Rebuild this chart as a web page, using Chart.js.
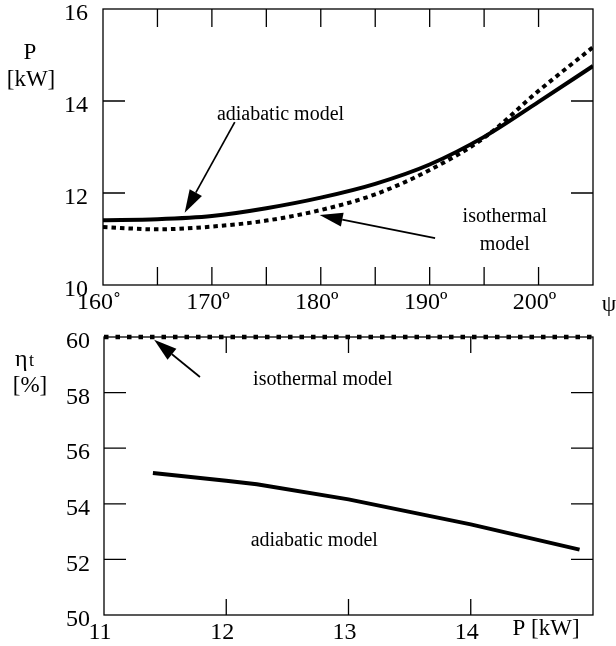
<!DOCTYPE html>
<html>
<head>
<meta charset="utf-8">
<script src="https://cdn.jsdelivr.net/npm/chart.js@4.4.1/dist/chart.umd.min.js"></script>
<style>
    body { margin: 0; background: #fff; }
    #wrap { position: relative; width: 616px; height: 646px; }
    canvas { position: absolute; left: 0; }
    #topChart { top: 0; }
    #bottomChart { top: 322px; }
</style>
</head>
<body>
<div id="wrap">
    <canvas id="topChart" width="616" height="322"></canvas>
    <canvas id="bottomChart" width="616" height="324"></canvas>
</div>
<script>
const FONT = "'Liberation Serif', 'Times New Roman', serif";

// top panel: power vs. angle psi
const psiDeg = [160, 165, 170, 175, 180, 185, 190, 195, 200, 205];
const powerAdiabatic = [11.41, 11.43, 11.50, 11.67, 11.90, 12.20, 12.62, 13.22, 13.98, 14.76];
const powerIsothermal = [11.26, 11.21, 11.27, 11.40, 11.63, 11.97, 12.50, 13.20, 14.22, 15.17];
const psiLabels = [160, 170, 180, 190, 200];
const powerTicks = [10, 12, 14, 16];

// bottom panel: efficiency vs. power
const powerKw = [11.4, 12.0, 12.25, 13.0, 13.5, 14.0, 14.89];
const etaAdiabatic = [55.11, 54.83, 54.70, 54.16, 53.71, 53.26, 52.35];
const powerIsoKw = [11, 15];
const etaIsothermal = [60, 60];
const powerLabels = [11, 12, 13, 14];
const etaTicks = [50, 52, 54, 56, 58, 60];

function toPoints(xs, ys) {
    return xs.map((x, i) => ({ x: x, y: ys[i] }));
}

function drawArrow(ctx, x1, y1, x2, y2, headLen, headW) {
    const ang = Math.atan2(y2 - y1, x2 - x1);
    const bx = x2 - headLen * Math.cos(ang);
    const by = y2 - headLen * Math.sin(ang);
    ctx.beginPath();
    ctx.moveTo(x1, y1);
    ctx.lineTo(bx, by);
    ctx.lineWidth = 1.7;
    ctx.stroke();
    ctx.beginPath();
    ctx.moveTo(x2, y2);
    ctx.lineTo(bx + headW * Math.sin(ang), by - headW * Math.cos(ang));
    ctx.lineTo(bx - headW * Math.sin(ang), by + headW * Math.cos(ang));
    ctx.closePath();
    ctx.fill();
}

// box, inward tick marks, notes and arrows
function framePlugin(cfg) {
    return {
        id: 'frame',
        afterDraw(chart) {
            const ctx = chart.ctx;
            const a = chart.chartArea;
            const xs = chart.scales.x, ys = chart.scales.y;
            ctx.save();
            ctx.strokeStyle = '#000';
            ctx.fillStyle = '#000';
            ctx.lineWidth = 1.3;
            ctx.strokeRect(a.left, a.top, a.right - a.left, a.bottom - a.top);
            ctx.beginPath();
            cfg.xMarks.forEach(v => {
                const px = xs.getPixelForValue(v);
                ctx.moveTo(px, a.bottom); ctx.lineTo(px, a.bottom - cfg.xLen);
                ctx.moveTo(px, a.top); ctx.lineTo(px, a.top + cfg.xLen);
            });
            cfg.yMarks.forEach(v => {
                const py = ys.getPixelForValue(v);
                ctx.moveTo(a.left, py); ctx.lineTo(a.left + cfg.yLen, py);
                ctx.moveTo(a.right, py); ctx.lineTo(a.right - cfg.yLen, py);
            });
            ctx.stroke();

            ctx.font = '20px ' + FONT;
            ctx.textAlign = 'center';
            ctx.textBaseline = 'middle';
            cfg.notes.forEach(n => {
                ctx.fillText(n.text, xs.getPixelForValue(n.x), ys.getPixelForValue(n.y) + 2);
            });
            cfg.arrows.forEach(ar => {
                drawArrow(ctx,
                    xs.getPixelForValue(ar.from[0]), ys.getPixelForValue(ar.from[1]),
                    xs.getPixelForValue(ar.to[0]), ys.getPixelForValue(ar.to[1]),
                    23, 7);
            });

            ctx.font = '23px ' + FONT;
            cfg.titles.forEach(t => ctx.fillText(t.text, t.px, t.py));
            if (cfg.extra) cfg.extra(ctx);
            ctx.restore();
        }
    };
}

function baseOptions(left, bottomH, padTop) {
    return {
        responsive: false,
        animation: false,
        layout: { padding: { top: padTop, right: 23, left: 0, bottom: 0 } },
        plugins: { legend: { display: false }, tooltip: { enabled: false } },
        elements: { point: { radius: 0 } },
        scales: {
            x: {
                type: 'linear',
                grid: { display: false, drawTicks: false, tickLength: 0 },
                border: { display: false },
                afterFit(s) { s.height = bottomH; s.paddingLeft = 0; s.paddingRight = 0; }
            },
            y: {
                type: 'linear',
                grid: { display: false, drawTicks: false, tickLength: 0 },
                border: { display: false },
                afterFit(s) { s.width = left; s.paddingTop = 0; s.paddingBottom = 0; }
            }
        }
    };
}

// ---- top chart ----
const topOpts = baseOptions(103, 37, 9);
Object.assign(topOpts.scales.x, {
    min: 160, max: 205,
    ticks: {
        stepSize: 5, autoSkip: false, maxRotation: 0, padding: 3, labelOffset: -4,
        color: '#000', font: { family: FONT, size: 24 },
        callback: v => v === 160 ? '160˚' : (psiLabels.includes(v) ? v + 'º' : '')
    }
});
Object.assign(topOpts.scales.y, {
    min: 10, max: 16,
    ticks: {
        stepSize: 2, padding: 15, labelOffset: 5, color: '#000',
        font: { family: FONT, size: 24 },
        callback: v => powerTicks.includes(v) ? v : ''
    }
});

new Chart(document.getElementById('topChart'), {
    type: 'line',
    data: {
        datasets: [
            {
                label: 'adiabatic model',
                data: toPoints(psiDeg, powerAdiabatic),
                borderColor: '#000', borderWidth: 4,
                cubicInterpolationMode: 'monotone', fill: false
            },
            {
                label: 'isothermal model',
                data: toPoints(psiDeg, powerIsothermal),
                borderColor: '#000', borderWidth: 4, borderDash: [4.5, 4],
                cubicInterpolationMode: 'monotone', fill: false
            }
        ]
    },
    options: topOpts,
    plugins: [framePlugin({
        xMarks: [165, 170, 175, 180, 185, 190, 195, 200], xLen: 18,
        yMarks: [12, 14], yLen: 22,
        notes: [
            { text: 'adiabatic model', x: 176.3, y: 13.74 },
            { text: 'isothermal', x: 196.9, y: 11.52 },
            { text: 'model', x: 196.9, y: 10.91 }
        ],
        arrows: [
            { from: [172.1, 13.54], to: [167.5, 11.57] },
            { from: [190.5, 11.02], to: [179.9, 11.52] }
        ],
        titles: [
            { text: 'P', px: 30, py: 53 },
            { text: '[kW]', px: 31, py: 80 },
            { text: 'ψ', px: 609, py: 305 }
        ]
    })]
});

// ---- bottom chart ----
const botOpts = baseOptions(104, 31, 15);
Object.assign(botOpts.scales.x, {
    min: 11, max: 15,
    ticks: {
        stepSize: 1, autoSkip: false, maxRotation: 0, padding: 3, labelOffset: -4,
        color: '#000', font: { family: FONT, size: 24 },
        callback: v => powerLabels.includes(v) ? v : ''
    }
});
Object.assign(botOpts.scales.y, {
    min: 50, max: 60,
    ticks: {
        stepSize: 2, padding: 14, labelOffset: 5, color: '#000',
        font: { family: FONT, size: 24 },
        callback: v => etaTicks.includes(v) ? v : ''
    }
});

new Chart(document.getElementById('bottomChart'), {
    type: 'line',
    data: {
        datasets: [
            {
                label: 'adiabatic model',
                data: toPoints(powerKw, etaAdiabatic),
                borderColor: '#000', borderWidth: 4, tension: 0, fill: false
            },
            {
                label: 'isothermal model',
                data: toPoints(powerIsoKw, etaIsothermal),
                borderColor: '#000', borderWidth: 4.5, borderDash: [4.5, 7],
                tension: 0, fill: false, clip: false
            }
        ]
    },
    options: botOpts,
    plugins: [framePlugin({
        xMarks: [12, 13, 14], xLen: 16,
        yMarks: [52, 54, 56, 58], yLen: 22,
        notes: [
            { text: 'isothermal model', x: 12.79, y: 58.52 },
            { text: 'adiabatic model', x: 12.72, y: 52.76 }
        ],
        arrows: [
            { from: [11.785, 58.56], to: [11.41, 59.9] }
        ],
        titles: [
            { text: '[%]', px: 30, py: 64 },
            { text: 'P [kW]', px: 546, py: 307 }
        ],
        extra(ctx) {
            ctx.font = '24px ' + FONT;
            ctx.textAlign = 'left';
            ctx.textBaseline = 'alphabetic';
            ctx.fillText('η', 15, 44);
            ctx.font = '18px ' + FONT;
            ctx.fillText('t', 29, 44);
        }
    })]
});
</script>
</body>
</html>
